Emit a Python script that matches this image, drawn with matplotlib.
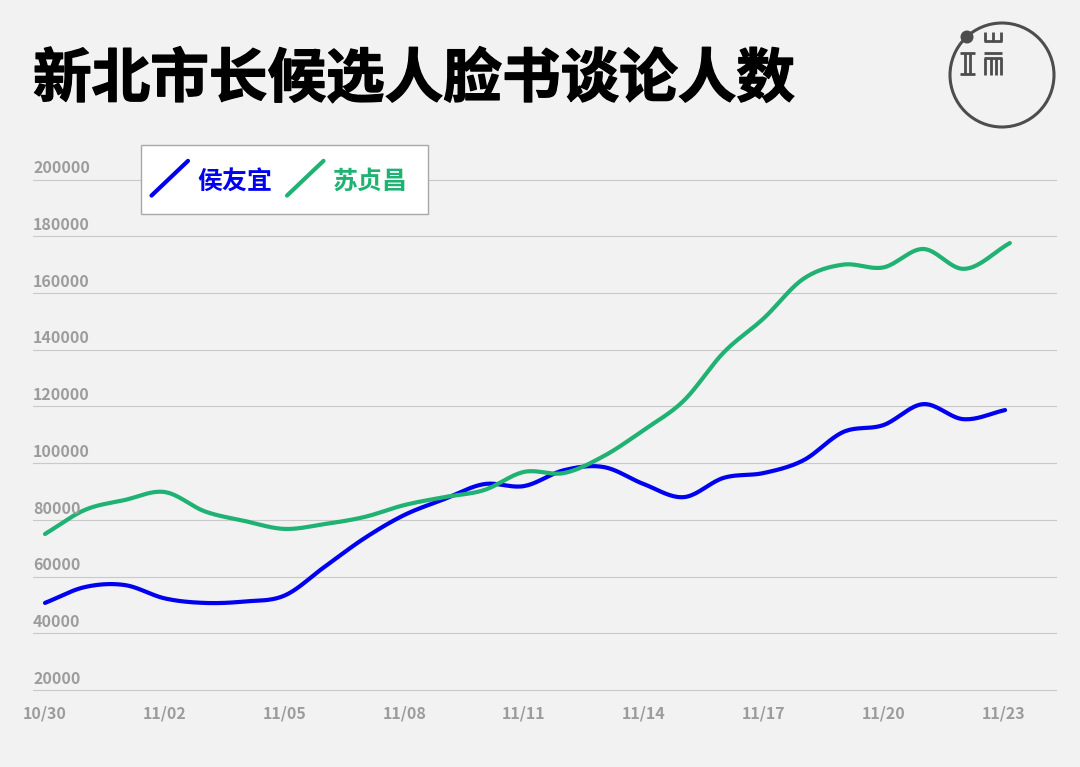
import numpy as np
import matplotlib
matplotlib.use('Agg')
import matplotlib.pyplot as plt
import matplotlib.patheffects as pe
from matplotlib.lines import Line2D
from matplotlib.legend_handler import HandlerLine2D
from matplotlib.patches import Circle, Rectangle

plt.rcParams['font.family'] = ['Noto Sans CJK SC', 'DejaVu Sans']

hou_days = list(range(24)) + [24.05]
su_days = list(range(24)) + [24.17]
tick_days = [0, 3, 6, 9, 12, 15, 18, 21, 24]
tick_labels = ['10/30', '11/02', '11/05', '11/08', '11/11', '11/14', '11/17', '11/20', '11/23']
y_ticks = [20000, 40000, 60000, 80000, 100000, 120000, 140000, 160000, 180000, 200000]

hou = [50700, 56300, 57000, 52300, 50700, 51200, 53300, 63400, 73500, 81700, 87300, 92600, 91900,
       97500, 98600, 92600, 88000, 94800, 96500, 101000, 111000, 113400, 120800, 115500, 118700]
su = [75000, 83500, 87000, 89800, 83000, 79600, 76800, 78500, 81000, 85200, 88000, 90500, 96900,
      96500, 102500, 111700, 122000, 139000, 151000, 165000, 170000, 169000, 175500, 168500, 177600]

BG = '#f2f2f2'
BLUE = '#0000f0'
GREEN = '#1fb272'
GREY = '#9c9c9c'
DARK = '#4d4d4d'


# hermite between the daily values, the original line is smoothed
def smooth(x, y, n=20):
    x = np.array(x, dtype=float)
    y = np.array(y, dtype=float)
    m = np.gradient(y, x)
    xs, ys = [], []
    for i in range(len(x) - 1):
        t = np.linspace(0, 1, n, endpoint=False)
        dx = x[i+1] - x[i]
        a = 2*t**3 - 3*t**2 + 1
        b = t**3 - 2*t**2 + t
        c = -2*t**3 + 3*t**2
        d = t**3 - t**2
        xs.append(x[i] + t*dx)
        ys.append(a*y[i] + b*dx*m[i] + c*y[i+1] + d*dx*m[i+1])
    xs.append(x[-1:])
    ys.append(y[-1:])
    return np.concatenate(xs), np.concatenate(ys)


class DiagHandler(HandlerLine2D):
    def create_artists(self, legend, orig, xd, yd, w, h, fontsize, trans):
        mid = h/2 - yd + 2
        line = Line2D([-xd, -xd + w], [mid - 12.5, mid + 12.5], color=orig.get_color(),
                      lw=orig.get_linewidth(), solid_capstyle='round', transform=trans)
        return [line]


W, H = 1080, 767
fig = plt.figure(figsize=(W/100, H/100), dpi=100, facecolor=BG)
ax = fig.add_axes([33/W, 1 - 690/H, (1056-33)/W, (690-179.5)/H], facecolor=BG)

ax.plot(*smooth(hou_days, hou), color=BLUE, lw=3, label='侯友宜', solid_capstyle='round')
ax.plot(*smooth(su_days, su), color=GREEN, lw=3, label='苏贞昌', solid_capstyle='round')

ax.set_xlim(-12/39.92, 1023/39.92 - 12/39.92)
ax.set_ylim(20000, 200000)
ax.set_xticks(tick_days)
ax.set_xticklabels(tick_labels, fontsize=11.5, fontweight='bold', color=GREY)
ax.set_yticks(y_ticks)
ax.set_yticklabels([])
ax.tick_params(length=0)
ax.tick_params(axis='x', pad=11)
ax.grid(axis='y', color='#c9c9c9', lw=0.8, clip_on=False)
ax.set_axisbelow(True)
for s in ax.spines.values():
    s.set_visible(False)

for v in y_ticks:
    ax.annotate(str(v), (0, v), xycoords=ax.get_yaxis_transform(), xytext=(0, 2.4),
                textcoords='offset points', fontsize=11.5, fontweight='bold', color=GREY,
                ha='left', va='bottom', clip_on=False)

ax.add_patch(Rectangle((141/W, 1 - 214/H), 287/W, 69/H, transform=fig.transFigure, fc='white',
                       ec='#a8a8a8', lw=1, clip_on=False, zorder=4))
ax.legend(loc='upper left', bbox_to_anchor=(141/W, 1 - 152/H), bbox_transform=fig.transFigure,
          ncol=2, frameon=False, borderaxespad=0, labelcolor='linecolor',
          handlelength=1.46, handleheight=1.9, handletextpad=0.36, columnspacing=0.6,
          borderpad=0.42, handler_map={Line2D: DiagHandler()},
          prop={'size': 18, 'weight': 'bold'})

fig.text(33/W, 1 - 80/H, '新北市长候选人脸书谈论人数', fontsize=42.2, fontweight='black',
         color='black', va='center', ha='left',
         path_effects=[pe.withStroke(linewidth=1.0, foreground='black')])

# logo, in pixel coordinates
logo = fig.add_axes([0, 0, 1, 1], facecolor='none')
logo.set_xlim(0, W)
logo.set_ylim(H, 0)
logo.axis('off')
logo.add_patch(Circle((1002, 75), 52, fill=False, ec=DARK, lw=2.2))
logo.add_patch(Circle((967, 37), 6.5, fc=DARK, ec='none'))
strokes = [
    ([960, 975], [53, 53]), ([960, 975], [74, 74]), ([965, 965], [53, 74]), ([970, 970], [53, 74]),
    ([984, 1002], [41, 41]), ([985, 985], [32, 41]), ([993, 993], [32, 41]), ([1001, 1001], [32, 41]),
    ([984, 1002], [53, 53]), ([984, 1002], [58, 58]), ([985, 985], [58, 75]), ([990.5, 990.5], [58, 75]),
    ([996, 996], [58, 75]), ([1001, 1001], [58, 75]),
]
for sx, sy in strokes:
    logo.plot(sx, sy, color=DARK, lw=2, solid_capstyle='butt')

fig.savefig('out.png', dpi=100, facecolor=BG)
